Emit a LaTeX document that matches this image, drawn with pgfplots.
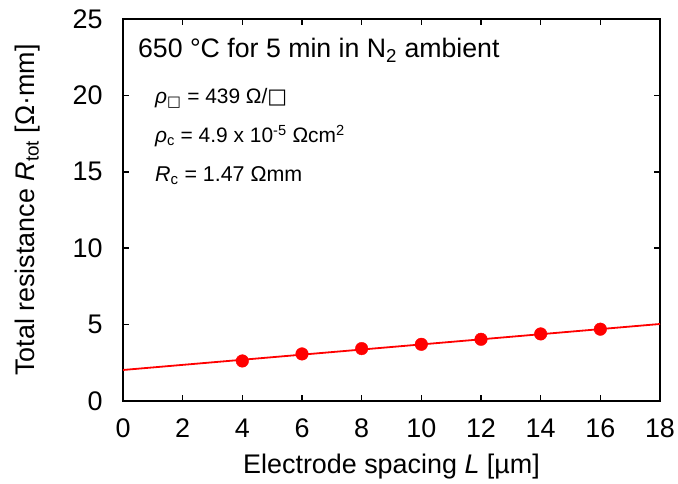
\documentclass[border=0pt]{standalone}
\usepackage{pgfplots}
\pgfplotsset{compat=1.18}
\usepackage{fontspec}
\setmainfont{Liberation Sans}
\newfontfamily\dejavu{DejaVu Sans}
\definecolor{dotred}{RGB}{255,0,0}
\begin{document}
\begin{tikzpicture}[font=\fontsize{27}{31}\selectfont]
\begin{axis}[
  at={(0,0)}, anchor=south west,
  scale only axis, width=537bp, height=382bp,
  xmin=0, xmax=18, ymin=0, ymax=25,
  xtick={0,2,...,18}, ytick={0,5,...,25},
  tick align=inside, major tick length=6bp,
  axis line style={line width=2.4bp},
  every tick/.style={black, line width=1.6bp},
  /pgf/number format/assume math mode=true,
  ticklabel style={font=\fontsize{27}{31}\selectfont},
  xticklabel style={yshift=-14bp},
  yticklabel style={xshift=-17bp},
  xlabel={Electrode spacing \textit{L} [µm]},
  ylabel={Total resistance \textit{R}\textsubscript{tot} [Ω·mm]},
  label style={font=\fontsize{27}{31}\selectfont},
  xlabel style={at={(axis description cs:0.5,-0.172)}, anchor=center},
  ylabel style={at={(axis description cs:-0.1769,0.5)}, anchor=center},
  clip=false,
]
\addplot[dotred, line width=1.8bp, no marks] coordinates {(0,2.03) (18,5.04)};
\addplot[only marks, mark=*, mark size=6.3bp, dotred, mark options={draw=dotred, fill=dotred}] coordinates {
(4,2.62) (6,3.08) (8,3.43) (10,3.71) (12,4.04) (14,4.39) (16,4.70)};
\node[anchor=base west, inner sep=0pt, font=\fontsize{26.8}{30}\selectfont] at (axis cs:0.5,22.46) {650 °C for 5 min in N\textsubscript{2} ambient};
\node[anchor=base west, inner sep=0pt, font=\fontsize{21}{25}\selectfont] at (axis cs:1.07,19.45) {\textit{ρ}\textsubscript{\dejavu □} = 439 Ω/{\dejavu □}};
\node[anchor=base west, inner sep=0pt, font=\fontsize{21}{25}\selectfont] at (axis cs:1.07,16.9) {\textit{ρ}\textsubscript{c} = 4.9 x 10\textsuperscript{-5} Ωcm\textsuperscript{2}};
\node[anchor=base west, inner sep=0pt, font=\fontsize{21.5}{25}\selectfont] at (axis cs:1.07,14.34) {\textit{R}\textsubscript{c} = 1.47 Ωmm};
\end{axis}
\pgfresetboundingbox
\path[use as bounding box] (-123bp,-83bp) rectangle (555bp,401bp);
\end{tikzpicture}
\end{document}
